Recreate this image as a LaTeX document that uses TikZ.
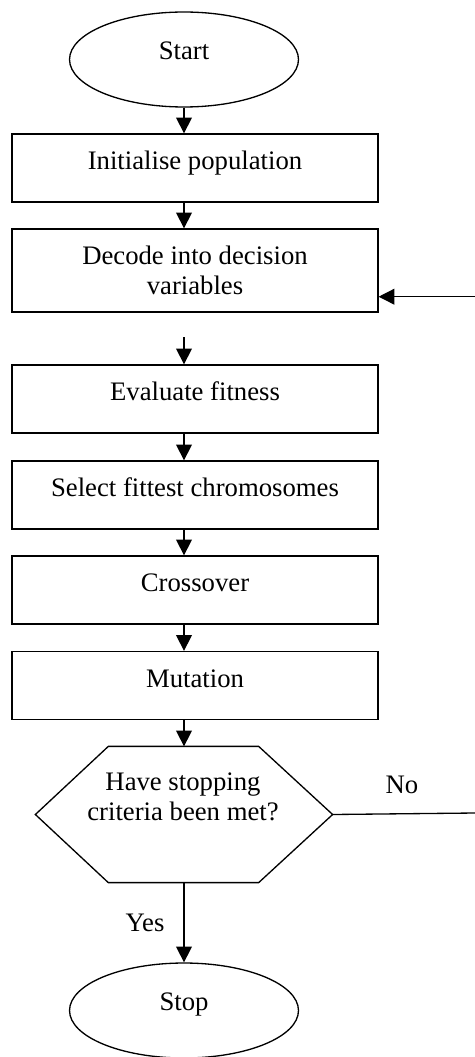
\documentclass[tikz,border=0pt]{standalone}
\usepackage{fontspec}
\setmainfont{Liberation Serif}
\usepackage{tikz}
\usetikzlibrary{arrows.meta,shapes.geometric}
\tikzset{
  process/.style={
    draw,
    rectangle,
    minimum width=7.32cm,
    inner sep=0pt,
    text height=0.71cm,
    text depth=0.65cm
  },
  processtwo/.style={
    draw,
    rectangle,
    minimum width=7.32cm,
    minimum height=1.66cm,
    inner sep=0pt,
    align=center
  },
  startstop/.style={
    draw,
    ellipse,
    minimum width=4.58cm,
    minimum height=1.9cm,
    inner sep=0pt,
    text height=0.2cm,
    text depth=0.2cm
  },
  decision/.style={
    minimum width=5.92cm,
    minimum height=2.7cm,
    inner sep=0pt
  },
  flow/.style={
    -{Triangle[length=9pt,width=9pt]}
  }
}
\begin{document}
\begin{tikzpicture}[line width=0.75pt, x=0.02cm, y=-0.02cm,
  font=\fontsize{15.2}{17.4}\selectfont]
  \useasboundingbox (0,0) rectangle (475,1057);

  \node[startstop] (start) at (184,59.5) {Start};
  \node[process] (init) at (195,168) {Initialise population};
  \node[processtwo] (decode) at (195,270.5) {Decode into decision\\variables};
  \node[process] (eval) at (195,399) {Evaluate fitness};
  \node[process] (select) at (195,495) {Select fittest chromosomes};
  \node[process] (cross) at (195,590) {Crossover};
  \node[process] (mut) at (195,685.5) {Mutation};
  \node[decision] (check) at (184,814.5) {};
  \node[align=center] (checktxt) at (183,797) {Have stopping\\criteria been met?};
  \node[startstop] (stop) at (184,1010.5) {Stop};

  \draw (check.west) -- ([xshift=1.46cm]check.north west)
    -- ([xshift=-1.48cm]check.north east) -- (check.east)
    -- ([xshift=-1.48cm]check.south east)
    -- ([xshift=1.46cm]check.south west) -- cycle;

  \coordinate (gap) at (184,337);
  \coordinate (noend) at (475,813);
  \coordinate (back) at (475,296.7);

  \draw[flow] (start.south) -- (start.south |- init.north);
  \draw[flow] (init.south -| start.south) -- (decode.north -| start.south);
  \draw[flow] (gap) -- (gap |- eval.north);
  \draw[flow] (eval.south -| gap) -- (select.north -| gap);
  \draw[flow] (select.south -| gap) -- (cross.north -| gap);
  \draw[flow] (cross.south -| gap) -- (mut.north -| gap);
  \draw[flow] (mut.south -| check.north) -- (check.north);
  \draw[flow] (check.south) -- (stop.north);

  \draw (check.east) -- (noend);
  \draw[flow] (back) -- (back -| decode.east);

  \node (yes) at (145,923) {Yes};
  \node (no) at (402,785) {No};
\end{tikzpicture}
\end{document}
